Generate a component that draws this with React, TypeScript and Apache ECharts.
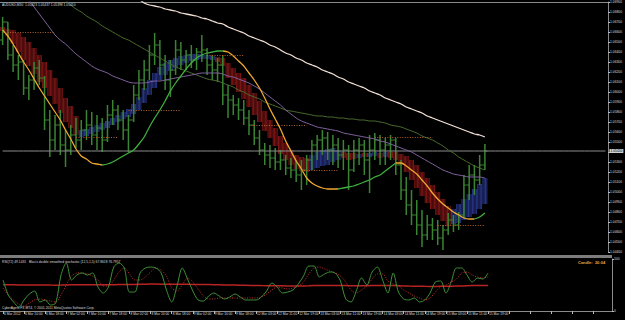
import React, { useEffect, useRef } from "react";
import * as echarts from "echarts";

// ---- time axis labels (one every 4 bars of 2h) ----
const timeLabels = [
  "6 Mar 2012", "6 Mar 10:00", "6 Mar 18:00", "7 Mar 02:00", "7 Mar 10:00", "7 Mar 18:00",
  "8 Mar 02:00", "8 Mar 10:00", "8 Mar 18:00", "9 Mar 02:00", "9 Mar 10:00", "9 Mar 18:00",
  "12 Mar 03:00", "12 Mar 11:00", "12 Mar 19:00", "13 Mar 03:00", "13 Mar 11:00", "13 Mar 19:00",
  "14 Mar 03:00", "14 Mar 11:00", "14 Mar 19:00", "15 Mar 03:00", "15 Mar 11:00", "15 Mar 19:00",
];
const slotCount = 116; // chart slots incl. right-side shift

// ---- price bars ----
const barOpen = [
  1.0652, 1.0670, 1.0637, 1.0627, 1.0630, 1.0604, 1.0612, 1.0624, 1.0614, 1.0572,
  1.0552, 1.0567, 1.0547, 1.0542, 1.0557, 1.0552, 1.0562, 1.0567, 1.0557, 1.0564,
  1.0552, 1.0577, 1.0582, 1.0572, 1.0562, 1.0572, 1.0597, 1.0612, 1.0622, 1.0637,
  1.0647, 1.0627, 1.0612, 1.0622, 1.0642, 1.0632, 1.0637, 1.0632, 1.0640, 1.0642,
  1.0627, 1.0622, 1.0627, 1.0597, 1.0592, 1.0587, 1.0582, 1.0574, 1.0567, 1.0554,
  1.0542, 1.0537, 1.0534, 1.0530, 1.0532, 1.0524, 1.0522, 1.0517, 1.0522, 1.0532,
  1.0547, 1.0552, 1.0554, 1.0542, 1.0547, 1.0537, 1.0542, 1.0522, 1.0542, 1.0547,
  1.0532, 1.0542, 1.0552, 1.0542, 1.0547, 1.0552, 1.0527, 1.0502, 1.0487, 1.0477,
  1.0467, 1.0457, 1.0467, 1.0462, 1.0454, 1.0462, 1.0472, 1.0467, 1.0477, 1.0507,
  1.0517, 1.0512, 1.0527,
];
const barClose = [
  1.0670, 1.0637, 1.0627, 1.0630, 1.0604, 1.0612, 1.0624, 1.0614, 1.0572, 1.0552,
  1.0567, 1.0547, 1.0542, 1.0557, 1.0552, 1.0562, 1.0567, 1.0557, 1.0564, 1.0552,
  1.0577, 1.0582, 1.0572, 1.0562, 1.0572, 1.0597, 1.0612, 1.0622, 1.0637, 1.0647,
  1.0627, 1.0612, 1.0622, 1.0642, 1.0632, 1.0637, 1.0632, 1.0640, 1.0642, 1.0627,
  1.0622, 1.0627, 1.0597, 1.0592, 1.0587, 1.0582, 1.0574, 1.0567, 1.0554, 1.0542,
  1.0537, 1.0534, 1.0530, 1.0532, 1.0524, 1.0522, 1.0517, 1.0522, 1.0532, 1.0547,
  1.0552, 1.0554, 1.0542, 1.0547, 1.0537, 1.0542, 1.0522, 1.0542, 1.0547, 1.0532,
  1.0542, 1.0552, 1.0542, 1.0547, 1.0552, 1.0527, 1.0502, 1.0487, 1.0477, 1.0467,
  1.0457, 1.0467, 1.0462, 1.0454, 1.0462, 1.0472, 1.0467, 1.0477, 1.0507, 1.0517,
  1.0512, 1.0527, 1.0541,
];
const barLow = [
  1.0647, 1.0632, 1.0620, 1.0612, 1.0597, 1.0592, 1.0602, 1.0607, 1.0562, 1.0535,
  1.0542, 1.0537, 1.0525, 1.0537, 1.0544, 1.0542, 1.0552, 1.0547, 1.0542, 1.0540,
  1.0550, 1.0567, 1.0562, 1.0552, 1.0540, 1.0570, 1.0592, 1.0602, 1.0612, 1.0627,
  1.0617, 1.0602, 1.0595, 1.0617, 1.0622, 1.0622, 1.0624, 1.0622, 1.0630, 1.0617,
  1.0612, 1.0610, 1.0587, 1.0574, 1.0577, 1.0572, 1.0567, 1.0557, 1.0547, 1.0537,
  1.0527, 1.0524, 1.0522, 1.0522, 1.0517, 1.0514, 1.0510, 1.0502, 1.0507, 1.0522,
  1.0532, 1.0537, 1.0532, 1.0527, 1.0524, 1.0522, 1.0502, 1.0520, 1.0527, 1.0517,
  1.0499, 1.0532, 1.0527, 1.0527, 1.0532, 1.0517, 1.0492, 1.0477, 1.0467, 1.0457,
  1.0445, 1.0452, 1.0452, 1.0447, 1.0442, 1.0457, 1.0460, 1.0462, 1.0474, 1.0492,
  1.0497, 1.0507, 1.0522,
];
const barHigh = [
  1.0675, 1.0670, 1.0647, 1.0637, 1.0632, 1.0617, 1.0630, 1.0632, 1.0616, 1.0582,
  1.0577, 1.0582, 1.0562, 1.0567, 1.0574, 1.0572, 1.0582, 1.0580, 1.0577, 1.0574,
  1.0587, 1.0592, 1.0587, 1.0582, 1.0577, 1.0607, 1.0622, 1.0632, 1.0647, 1.0659,
  1.0652, 1.0637, 1.0632, 1.0652, 1.0650, 1.0642, 1.0647, 1.0644, 1.0657, 1.0644,
  1.0637, 1.0634, 1.0637, 1.0607, 1.0597, 1.0594, 1.0592, 1.0582, 1.0572, 1.0562,
  1.0549, 1.0547, 1.0544, 1.0542, 1.0537, 1.0534, 1.0532, 1.0532, 1.0537, 1.0552,
  1.0557, 1.0562, 1.0560, 1.0557, 1.0554, 1.0552, 1.0547, 1.0552, 1.0554, 1.0552,
  1.0557, 1.0559, 1.0557, 1.0554, 1.0557, 1.0554, 1.0532, 1.0515, 1.0502, 1.0492,
  1.0482, 1.0477, 1.0474, 1.0472, 1.0467, 1.0479, 1.0477, 1.0480, 1.0517, 1.0527,
  1.0527, 1.0537, 1.0548,
];

// ---- two-colour smoothed average ----
const maFast = [
  1.0662, 1.0656, 1.0648, 1.0639, 1.0630, 1.0622, 1.0613, 1.0604, 1.0596, 1.0588,
  1.0580, 1.0572, 1.0562, 1.0553, 1.0543, 1.0536, 1.0533, 1.0529, 1.0528, 1.0527,
  1.0528, 1.0530, 1.0533, 1.0536, 1.0539, 1.0542, 1.0548, 1.0555, 1.0565, 1.0574,
  1.0582, 1.0591, 1.0601, 1.0609, 1.0616, 1.0623, 1.0629, 1.0634, 1.0637, 1.0639,
  1.0640, 1.0641, 1.0641, 1.0640, 1.0636, 1.0631, 1.0626, 1.0619, 1.0612, 1.0604,
  1.0594, 1.0583, 1.0573, 1.0563, 1.0551, 1.0541, 1.0531, 1.0523, 1.0514, 1.0509,
  1.0506, 1.0504, 1.0503, 1.0503, 1.0503, 1.0504, 1.0505, 1.0506, 1.0508, 1.0510,
  1.0512, 1.0515, 1.0517, 1.0521, 1.0525, 1.0529, 1.0529, 1.0526, 1.0522, 1.0518,
  1.0512, 1.0506, 1.0499, 1.0493, 1.0488, 1.0484, 1.0480, 1.0477, 1.0474, 1.0473,
  1.0473, 1.0475, 1.0479,
];
const maSegments: [number, number, "fall" | "rise"][] = [
  [0, 19, "fall"], [19, 42, "rise"], [42, 64, "fall"], [64, 75, "rise"], [75, 90, "fall"], [90, 92, "rise"],
];

// ---- ribbon (upper / lower edge, trend) ----
const bandUpper = [
  1.0665, 1.0663, 1.0662, 1.0659, 1.0655, 1.0650, 1.0644, 1.0637, 1.0630, 1.0622,
  1.0614, 1.0604, 1.0594, 1.0586, 1.0576, 1.0562, 1.0563, 1.0565, 1.0567, 1.0569,
  1.0571, 1.0574, 1.0577, 1.0580, 1.0583, 1.0588, 1.0595, 1.0604, 1.0612, 1.0619,
  1.0625, 1.0629, 1.0632, 1.0634, 1.0636, 1.0637, 1.0638, 1.0638, 1.0638, 1.0637,
  1.0636, 1.0635, 1.0634, 1.0629, 1.0624, 1.0619, 1.0614, 1.0607, 1.0599, 1.0591,
  1.0581, 1.0572, 1.0564, 1.0556, 1.0549, 1.0542, 1.0537, 1.0535, 1.0534, 1.0537,
  1.0540, 1.0542, 1.0543, 1.0544, 1.0542, 1.0540, 1.0539, 1.0539, 1.0538, 1.0539,
  1.0539, 1.0540, 1.0539, 1.0540, 1.0540, 1.0540, 1.0538, 1.0536, 1.0532, 1.0527,
  1.0520, 1.0514, 1.0507, 1.0500, 1.0493, 1.0486, 1.0483, 1.0488, 1.0493, 1.0498,
  1.0503, 1.0508, 1.0514,
];
const bandLower = [
  1.0661, 1.0656, 1.0648, 1.0640, 1.0632, 1.0626, 1.0618, 1.0610, 1.0604, 1.0596,
  1.0588, 1.0579, 1.0570, 1.0564, 1.0557, 1.0555, 1.0556, 1.0558, 1.0560, 1.0562,
  1.0564, 1.0567, 1.0570, 1.0573, 1.0575, 1.0578, 1.0582, 1.0589, 1.0597, 1.0604,
  1.0612, 1.0617, 1.0621, 1.0624, 1.0627, 1.0629, 1.0631, 1.0632, 1.0633, 1.0633,
  1.0632, 1.0630, 1.0626, 1.0614, 1.0607, 1.0600, 1.0593, 1.0585, 1.0577, 1.0570,
  1.0561, 1.0554, 1.0546, 1.0538, 1.0532, 1.0527, 1.0523, 1.0521, 1.0520, 1.0522,
  1.0524, 1.0526, 1.0527, 1.0530, 1.0532, 1.0534, 1.0532, 1.0533, 1.0534, 1.0535,
  1.0535, 1.0536, 1.0534, 1.0535, 1.0534, 1.0532, 1.0527, 1.0520, 1.0512, 1.0504,
  1.0496, 1.0489, 1.0483, 1.0477, 1.0471, 1.0466, 1.0468, 1.0469, 1.0472, 1.0475,
  1.0478, 1.0483, 1.0488,
];
const bandTrend =
  "ddddddddddddddd" + "uuuuuuuuuuuuuuuuuuuuuuuuuu" + "dddddddddddddddddd" + "uuuuuu" +
  "ddduduudud" + "ddddddddddd" + "uuuuuuu";

// ---- moving averages ----
const maPurple: (number | null)[] = [
  null, null, null, null, 1.0700, 1.0692, 1.0685, 1.0678, 1.0671, 1.0664,
  1.0657, 1.0652, 1.0648, 1.0643, 1.0638, 1.0634, 1.0630, 1.0626, 1.0623, 1.0621,
  1.0619, 1.0616, 1.0614, 1.0612, 1.0610, 1.0609, 1.0609, 1.0609, 1.0610, 1.0611,
  1.0611, 1.0612, 1.0613, 1.0614, 1.0615, 1.0616, 1.0617, 1.0618, 1.0619, 1.0619,
  1.0619, 1.0619, 1.0618, 1.0616, 1.0615, 1.0613, 1.0611, 1.0609, 1.0606, 1.0603,
  1.0599, 1.0595, 1.0591, 1.0587, 1.0582, 1.0578, 1.0574, 1.0571, 1.0569, 1.0567,
  1.0565, 1.0564, 1.0563, 1.0562, 1.0561, 1.0559, 1.0558, 1.0557, 1.0556, 1.0555,
  1.0554, 1.0553, 1.0551, 1.0550, 1.0548, 1.0546, 1.0544, 1.0542, 1.0540, 1.0537,
  1.0534, 1.0531, 1.0528, 1.0525, 1.0522, 1.0520, 1.0518, 1.0517, 1.0516, 1.0515,
  1.0515, 1.0515, 1.0514,
];
const maOlive: (number | null)[] = [
  null, null, null, null, null, null, null, null, null, null,
  null, null, 1.0692, 1.0687, 1.0683, 1.0680, 1.0676, 1.0673, 1.0670, 1.0666,
  1.0663, 1.0660, 1.0657, 1.0654, 1.0652, 1.0649, 1.0646, 1.0643, 1.0640, 1.0637,
  1.0634, 1.0631, 1.0628, 1.0625, 1.0623, 1.0621, 1.0619, 1.0617, 1.0615, 1.0613,
  1.0612, 1.0611, 1.0609, 1.0607, 1.0605, 1.0602, 1.0600, 1.0597, 1.0595, 1.0593,
  1.0590, 1.0588, 1.0586, 1.0584, 1.0582, 1.0581, 1.0580, 1.0579, 1.0578, 1.0577,
  1.0576, 1.0576, 1.0575, 1.0575, 1.0574, 1.0574, 1.0573, 1.0573, 1.0572, 1.0572,
  1.0571, 1.0571, 1.0570, 1.0569, 1.0567, 1.0566, 1.0565, 1.0563, 1.0561, 1.0559,
  1.0556, 1.0554, 1.0552, 1.0549, 1.0546, 1.0542, 1.0539, 1.0535, 1.0532, 1.0529,
  1.0526, 1.0524, 1.0522,
];
const maWhite: (number | null)[] = [
  null, null, null, null, null, null, null, null, null, null,
  null, null, null, null, null, null, null, null, null, null,
  null, null, null, null, null, null, 1.0693, 1.0689, 1.0687, 1.0686,
  1.0685, 1.0683, 1.0682, 1.0681, 1.0679, 1.0678, 1.0677, 1.0676, 1.0674, 1.0673,
  1.0671, 1.0669, 1.0668, 1.0665, 1.0663, 1.0661, 1.0659, 1.0656, 1.0654, 1.0652,
  1.0650, 1.0647, 1.0645, 1.0642, 1.0639, 1.0637, 1.0634, 1.0632, 1.0629, 1.0627,
  1.0625, 1.0622, 1.0620, 1.0618, 1.0615, 1.0613, 1.0610, 1.0608, 1.0606, 1.0604,
  1.0601, 1.0599, 1.0597, 1.0594, 1.0592, 1.0590, 1.0588, 1.0585, 1.0583, 1.0581,
  1.0579, 1.0576, 1.0574, 1.0572, 1.0570, 1.0568, 1.0566, 1.0564, 1.0562, 1.0560,
  1.0558, 1.0557, 1.0555,
];

// ---- dotted levels: [startBar, endBar, price] ----
const levels: [number, number, number][] = [
  [0, 10, 1.0660], [14, 22, 1.0555], [24, 34, 1.0582], [39, 46, 1.0637],
  [47, 58, 1.0567], [57, 64, 1.0522], [71, 82, 1.0555], [83, 92, 1.0467],
];

// ---- lower pane ----
const stochMain = [
  59.6, 30.8, 17.3, 7.7, 21.2, 32.7, 38.5, 17.3, 21.2, 11.5,
  15.4, 69.2, 92.3, 59.6, 69.2, 73.1, 69.2, 73.1, 46.2, 34.6,
  46.2, 84.6, 92.3, 82.7, 36.5, 36.5, 73.1, 82.7, 84.6, 82.7,
  73.1, 40.4, 17.3, 48.1, 82.7, 61.5, 38.5, 21.2, 19.2, 28.8,
  34.6, 28.8, 23.1, 26.9, 32.7, 26.9, 21.2, 21.2, 21.2, 26.9,
  38.5, 53.8, 46.2, 34.6, 36.5, 40.4, 51.9, 67.3, 86.5, 86.5,
  65.4, 71.2, 75.0, 73.1, 57.7, 23.1, 17.3, 38.5, 63.5, 50.0,
  75.0, 84.6, 59.6, 34.6, 73.1, 36.5, 23.1, 21.2, 25.0, 17.3,
  21.2, 34.6, 55.8, 57.7, 34.6, 55.8, 82.7, 82.7, 69.2, 55.8,
  63.5, 61.5, 73.1,
];
const stochSignal = [
  44.2, 30.8, 21.2, 13.5, 9.6, 15.4, 21.2, 23.1, 21.2, 19.2,
  17.3, 30.8, 50.0, 67.3, 73.1, 73.1, 71.2, 67.3, 59.6, 48.1,
  48.1, 59.6, 75.0, 82.7, 71.2, 59.6, 59.6, 65.4, 75.0, 82.7,
  78.8, 67.3, 44.2, 38.5, 50.0, 63.5, 55.8, 42.3, 28.8, 23.1,
  23.1, 25.0, 25.0, 25.0, 25.0, 25.0, 25.0, 25.0, 25.0, 26.9,
  32.7, 40.4, 46.2, 44.2, 42.3, 44.2, 48.1, 55.8, 71.2, 82.7,
  84.6, 80.8, 76.9, 73.1, 67.3, 55.8, 40.4, 34.6, 40.4, 48.1,
  61.5, 71.2, 71.2, 57.7, 51.9, 48.1, 40.4, 34.6, 28.8, 25.0,
  21.2, 25.0, 36.5, 46.2, 50.0, 55.8, 61.5, 73.1, 75.0, 69.2,
  65.4, 63.5, 65.4,
];
const rsi72 = [
  50.5, 50.6, 50.4, 50.2, 50.0, 49.9, 50.0, 50.1, 50.0, 49.8,
  49.7, 49.9, 50.2, 50.4, 50.5, 50.5, 50.6, 50.5, 50.4, 50.3,
  50.4, 50.6, 50.9, 51.1, 51.0, 51.2, 51.4, 51.6, 51.7, 51.8,
  51.6, 51.4, 51.3, 51.4, 51.5, 51.4, 51.2, 51.0, 50.9, 50.8,
  50.6, 50.5, 50.2, 50.0, 49.8, 49.6, 49.4, 49.2, 49.0, 48.8,
  48.7, 48.6, 48.5, 48.4, 48.3, 48.3, 48.2, 48.3, 48.5, 48.8,
  49.0, 49.1, 49.1, 49.0, 48.9, 48.8, 48.6, 48.6, 48.7, 48.7,
  48.8, 48.9, 48.9, 48.8, 48.8, 48.6, 48.3, 48.0, 47.8, 47.6,
  47.4, 47.3, 47.3, 47.4, 47.5, 47.7, 48.0, 48.3, 48.6, 48.8,
  48.9, 49.0, 49.1,
];

const priceMin = 1.044;
const priceMax = 1.069;
const priceStep = 0.001;

const tiny = { fontSize: 3.3, color: "#dcdcdc", fontFamily: "Liberation Sans", fontWeight: "normal" as const };
const grey = "#8a8a8a";

export default function App() {
  const ref = useRef<HTMLDivElement>(null);

  useEffect(() => {
    document.body.style.margin = "0";
    document.body.style.background = "#000";
    if (!ref.current) return;
    const chart = echarts.init(ref.current, undefined, { renderer: "svg" });

    const slots = Array.from({ length: slotCount }, (_, i) => String(i));
    const segSeries = (kind: "fall" | "rise") =>
      maFast.map((v, i) => (maSegments.some(([a, b, k]) => k === kind && i >= a && i <= b) ? v : null));

    const barData = barOpen.map((o, i) => [i, o, barClose[i], barLow[i], barHigh[i]]);
    const bandData = bandUpper.map((u, i) => [i, bandLower[i], u, bandTrend[i] === "u" ? 1 : -1]);
    const lastClose = barClose[barClose.length - 1];
    const bidLine = slots.map(() => lastClose);

    const renderBar = (_p: any, api: any) => {
      const idx = api.value(0);
      const o = api.coord([idx, api.value(1)]);
      const c = api.coord([idx, api.value(2)]);
      const l = api.coord([idx, api.value(3)]);
      const h = api.coord([idx, api.value(4)]);
      const w = api.size([1, 0])[0];
      const stroke = "#3a8533";
      return {
        type: "group",
        children: [
          { type: "line", shape: { x1: h[0], y1: h[1], x2: l[0], y2: l[1] }, style: { stroke, lineWidth: 1.5 } },
          { type: "line", shape: { x1: o[0] - w * 0.5, y1: o[1], x2: o[0], y2: o[1] }, style: { stroke, lineWidth: 1 } },
          { type: "line", shape: { x1: c[0], y1: c[1], x2: c[0] + w * 0.5, y2: c[1] }, style: { stroke, lineWidth: 1 } },
        ],
      };
    };

    const renderBand = (_p: any, api: any) => {
      const idx = api.value(0);
      const lo = api.coord([idx, api.value(1)]);
      const hi = api.coord([idx, api.value(2)]);
      const up = api.value(3) > 0;
      const w = api.size([1, 0])[0];
      const stripe = up ? "#2c3c96" : "#8c1818";
      const x0 = lo[0] - w / 2;
      const children: any[] = [];
      for (let k = 0; k < 4; k++) {
        const x = x0 + (w * (k + 0.5)) / 4;
        children.push({ type: "line", shape: { x1: x, y1: hi[1], x2: x, y2: lo[1] }, style: { stroke: stripe, lineWidth: 0.9 } });
      }
      return { type: "group", children };
    };

    const option: any = {
      animation: false,
      backgroundColor: "#000000",
      textStyle: { fontFamily: "Liberation Sans" },
      title: [
        { text: "AUDUSD,M30  1.05423 1.05437 1.05398 1.05410", left: 2, top: 3, padding: 0, textStyle: tiny },
        {
          text: "RSI(72) 49.1431   Blau's double smoothed stochastic (12,5,1,5) 67.8618 76.7957",
          left: 2, top: 260, padding: 0, textStyle: tiny,
        },
        { text: "CyberAgent FX MT4, © 2001-2011 MetaQuotes Software Corp.", left: 2, top: 306, padding: 0, textStyle: tiny },
        { text: "Candle:  20:04", left: 578, top: 260, padding: 0, textStyle: { ...tiny, fontSize: 4, color: "#e8a040", fontWeight: "bold" } },
      ],
      grid: [
        { left: 0, right: 13, top: 2, height: 250 },
        { left: 0, right: 13, top: 259, height: 52 },
      ],
      xAxis: [
        {
          type: "category", gridIndex: 0, data: slots, position: "top", boundaryGap: true,
          axisLine: { show: true, lineStyle: { color: grey, width: 1 } },
          axisTick: { show: false }, axisLabel: { show: false }, splitLine: { show: false },
        },
        {
          type: "category", gridIndex: 1, data: slots, boundaryGap: true,
          axisLine: { show: true, lineStyle: { color: grey, width: 1 } },
          axisTick: { show: true, interval: 3, alignWithLabel: true, length: 3, lineStyle: { color: "#bbbbbb" } },
          axisLabel: {
            interval: 3, margin: 1.5, align: "left", ...tiny,
            formatter: (_v: string, idx: number) => (idx % 4 === 0 && idx / 4 < timeLabels.length ? " " + timeLabels[idx / 4] : ""),
          },
          splitLine: { show: false },
        },
      ],
      yAxis: [
        {
          type: "value", gridIndex: 0, position: "right", min: priceMin, max: priceMax, interval: priceStep,
          axisLine: { show: true, lineStyle: { color: grey } },
          axisTick: { show: true, length: 2, lineStyle: { color: "#bbbbbb" } },
          axisLabel: { margin: 2, ...tiny, formatter: (v: number) => v.toFixed(5) },
          splitLine: { show: false },
        },
        {
          type: "value", gridIndex: 1, position: "right", min: 0, max: 100, interval: 100,
          axisLine: { show: true, lineStyle: { color: grey } },
          axisTick: { show: true, length: 2, lineStyle: { color: "#bbbbbb" } },
          axisLabel: { margin: 2, ...tiny },
          splitLine: { show: false },
        },
      ],
      graphic: [
        { type: "rect", shape: { x: 0, y: 255, width: 612, height: 3 }, style: { fill: "#7c7c7c" }, silent: true },
      ],
      series: [
        {
          name: "ribbon", type: "custom", xAxisIndex: 0, yAxisIndex: 0, z: 1,
          renderItem: renderBand, encode: { x: 0, y: [1, 2] }, data: bandData, clip: true,
        },
        {
          name: "bid", type: "line", xAxisIndex: 0, yAxisIndex: 0, z: 2, data: bidLine, symbol: "none",
          lineStyle: { color: "#8c8c8c", width: 1 },
          endLabel: {
            show: true, distance: 4, formatter: () => lastClose.toFixed(5),
            fontSize: 3.3, color: "#000", backgroundColor: "#d0d0d0", padding: [0.5, 1],
          },
        },
        {
          name: "AUDUSD", type: "custom", xAxisIndex: 0, yAxisIndex: 0, z: 2,
          renderItem: renderBar, encode: { x: 0, y: [1, 2, 3, 4] }, data: barData, clip: true,
        },
        {
          name: "white", type: "line", xAxisIndex: 0, yAxisIndex: 0, z: 3, data: maWhite, symbol: "none", smooth: 0.3,
          lineStyle: { color: "#f2e0d6", width: 1.3 },
        },
        {
          name: "olive", type: "line", xAxisIndex: 0, yAxisIndex: 0, z: 3, data: maOlive, symbol: "none", smooth: 0.3,
          lineStyle: { color: "#4a6a2e", width: 1 },
          markLine: {
            silent: true, symbol: "none", label: { show: false },
            lineStyle: { color: "#b0642a", width: 1, type: [1, 1.5] },
            data: levels.map(([a, b, p]) => [{ coord: [a, p] }, { coord: [b, p] }]),
          },
        },
        {
          name: "purple", type: "line", xAxisIndex: 0, yAxisIndex: 0, z: 3, data: maPurple, symbol: "none", smooth: 0.3,
          lineStyle: { color: "#7f619c", width: 1 },
        },
        {
          name: "fall", type: "line", xAxisIndex: 0, yAxisIndex: 0, z: 4, data: segSeries("fall"), symbol: "none", smooth: 0.3,
          lineStyle: { color: "#f0a830", width: 1.3 },
        },
        {
          name: "rise", type: "line", xAxisIndex: 0, yAxisIndex: 0, z: 4, data: segSeries("rise"), symbol: "none", smooth: 0.3,
          lineStyle: { color: "#3fae3f", width: 1.3 },
        },
        {
          name: "RSI(72)", type: "line", xAxisIndex: 1, yAxisIndex: 1, data: rsi72, symbol: "none",
          lineStyle: { color: "#b82424", width: 1.5 },
        },
        {
          name: "signal", type: "line", xAxisIndex: 1, yAxisIndex: 1, data: stochSignal, symbol: "none", smooth: 0.3,
          lineStyle: { color: "#c83030", width: 1, type: [1, 1.5] },
        },
        {
          name: "DSS", type: "line", xAxisIndex: 1, yAxisIndex: 1, data: stochMain, symbol: "none", smooth: 0.3,
          lineStyle: { color: "#3f8f38", width: 1 },
        },
      ],
    };

    chart.setOption(option);
    return () => chart.dispose();
  }, []);

  return (
    <div
      ref={ref}
      style={{ position: "fixed", left: 0, top: 0, width: 625, height: 320, background: "#000" }}
    />
  );
}
